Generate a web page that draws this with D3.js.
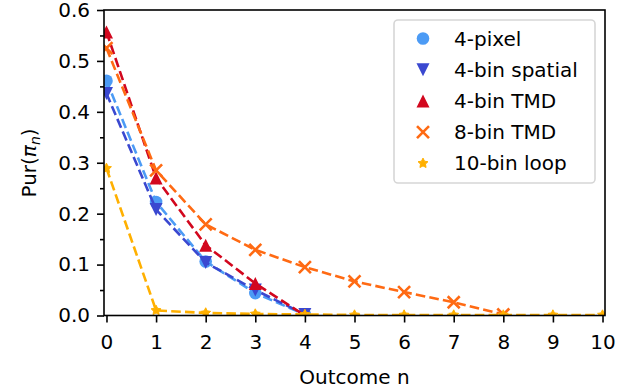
<!DOCTYPE html>
<html><head><meta charset="utf-8">
<script src="https://cdn.jsdelivr.net/npm/d3@7"></script>
<style>body{margin:0;background:#fff}text{font-family:"DejaVu Sans",sans-serif;fill:#000}</style>
</head><body><svg id="c" width="632" height="392"></svg>
<script>
const outcomes = [0,1,2,3,4,5,6,7,8,9,10];
const seriesNames = ["4-pixel","4-bin spatial","4-bin TMD","8-bin TMD","10-bin loop"];
const pixel4 = [0.461,0.223,0.106,0.044,0.002];
const spatial4 = [0.436,0.208,0.104,0.050,0.002];
const tmd4 = [0.557,0.270,0.138,0.063,0.0];
const tmd8 = [0.525,0.285,0.179,0.129,0.095,0.067,0.046,0.026,0.002];
const loop10 = [0.289,0.010,0.005,0.003,0.002,0.001,0.001,0.001,0.001,0.001,0.001];
const yTicks = [0.0,0.1,0.2,0.3,0.4,0.5,0.6];
const yMinorTicks = [0.05,0.15,0.25,0.35,0.45,0.55];
const xTicks = [0,1,2,3,4,5,6,7,8,9,10];

const colors = ["#4c9bf5","#3a48d0","#d2071e","#ff6a13","#ffb000"];
const symbols = ["circle","down","up","x","star"];
const data = [pixel4,spatial4,tmd4,tmd8,loop10];

const svg = d3.select("#c");
const L=104,R=605,T=10,B=315.5;
const x = d3.scaleLinear().domain([-0.05,10.05]).range([L,R]);
const y = d3.scaleLinear().domain([0,0.6]).range([B,T]);

svg.append("defs").append("clipPath").attr("id","clip").append("rect")
  .attr("x",L).attr("y",T).attr("width",R-L).attr("height",B-T);

const g = svg.append("g").attr("clip-path","url(#clip)");
const line = d3.line().x((d,i)=>x(outcomes[i])).y(d=>y(d));

function starPath(ro,ri){
  let p="";
  for(let k=0;k<10;k++){
    const r=k%2?ri:ro, a=-Math.PI/2+k*Math.PI/5;
    p+=(k?"L":"M")+(r*Math.cos(a)).toFixed(2)+","+(r*Math.sin(a)).toFixed(2);
  }
  return p+"Z";
}
const ms = 13;
function drawMarker(sel,kind,color,cx,cy){
  const h=ms/2;
  if(kind==="x"){
    const s=6;
    sel.append("path").attr("d",`M${cx-s},${cy-s}L${cx+s},${cy+s}M${cx-s},${cy+s}L${cx+s},${cy-s}`)
      .attr("stroke",color).attr("stroke-width",2.6).attr("fill","none");
  } else if(kind==="circle"){
    sel.append("circle").attr("cx",cx).attr("cy",cy).attr("r",6.3).attr("fill",color);
  } else if(kind==="up"){
    sel.append("path").attr("d",`M${cx},${cy-h}L${cx+h},${cy+h}L${cx-h},${cy+h}Z`).attr("fill",color);
  } else if(kind==="down"){
    sel.append("path").attr("d",`M${cx},${cy+h}L${cx+h},${cy-h}L${cx-h},${cy-h}Z`).attr("fill",color);
  } else {
    sel.append("path").attr("d",starPath(5.2,2.6)).attr("transform",`translate(${cx},${cy})`)
      .attr("fill",color).attr("stroke",color).attr("stroke-width",1).attr("stroke-linejoin","round");
  }
}

data.forEach((vals,si)=>{
  g.append("path").datum(vals).attr("d",line).attr("fill","none")
    .attr("stroke",colors[si]).attr("stroke-width",2.6).attr("stroke-dasharray","9.6,4.2");
  vals.forEach((v,i)=>drawMarker(g,symbols[si],colors[si],x(outcomes[i]),y(v)));
});

// axes
const xAxis = svg.append("g").attr("transform",`translate(0,${B})`)
  .call(d3.axisBottom(x).tickValues(xTicks).tickFormat(d3.format("d")).tickSize(7).tickPadding(7));
const yAxis = svg.append("g").attr("transform",`translate(${L},0)`)
  .call(d3.axisLeft(y).tickValues(yTicks).tickFormat(d3.format(".1f")).tickSize(7).tickPadding(7));
const yMinor = svg.append("g").attr("transform",`translate(${L},0)`)
  .call(d3.axisLeft(y).tickValues(yMinorTicks).tickFormat("").tickSize(4));
yMinor.select(".domain").remove();
[xAxis,yAxis].forEach(a=>{
  a.selectAll("text").attr("font-size",20).attr("font-family","DejaVu Sans");
  a.select(".domain").remove();
});
xAxis.selectAll("text").attr("dy",null).attr("y",33.5);
svg.selectAll(".tick line").attr("stroke","#000").attr("stroke-width",1.6);
svg.append("rect").attr("x",L).attr("y",T).attr("width",R-L).attr("height",B-T)
  .attr("fill","none").attr("stroke","#000").attr("stroke-width",1.6);

svg.append("text").attr("x",(L+R)/2).attr("y",384).attr("text-anchor","middle")
  .attr("font-size",20).text("Outcome n");
const yl = svg.append("text").attr("transform","translate(36,163) rotate(-90)")
  .attr("text-anchor","middle").attr("font-size",20);
yl.append("tspan").text("Pur(");
yl.append("tspan").attr("font-style","italic").text("π");
yl.append("tspan").attr("font-style","italic").attr("font-size",14).attr("dy",4).text("n");
yl.append("tspan").attr("dy",-4).text(")");

// legend
const lg = svg.append("g");
lg.append("rect").attr("x",394).attr("y",20).attr("width",201).attr("height",163).attr("rx",4)
  .attr("fill","#fff").attr("fill-opacity",0.8).attr("stroke","#d6d6d6").attr("stroke-width",1.6);
seriesNames.forEach((n,i)=>{
  const cy = 38.5 + i*31.2;
  drawMarker(lg,symbols[i],colors[i],423,cy);
  lg.append("text").attr("x",454).attr("y",cy+7).attr("font-size",20).text(n);
});
</script></body></html>
